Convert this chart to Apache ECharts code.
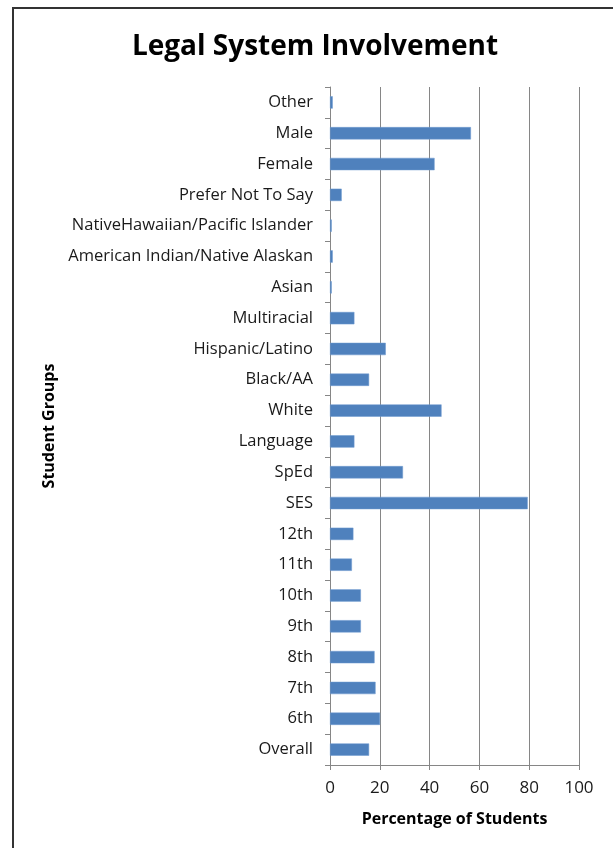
<!DOCTYPE html>
<html>
<head>
<meta charset="utf-8">
<script src="https://cdn.jsdelivr.net/npm/echarts@6/dist/echarts.min.js"></script>
<style>
  html, body { margin: 0; padding: 0; background: #fff; }
  #chart { width: 613px; height: 848px; }
</style>
</head>
<body>
<div id="chart"></div>
<script>
// categories bottom -> top
var groups = ['Overall', '6th', '7th', '8th', '9th', '10th', '11th', '12th', 'SES', 'SpEd',
  'Language', 'White', 'Black/AA', 'Hispanic/Latino', 'Multiracial', 'Asian',
  'American Indian/Native Alaskan', 'NativeHawaiian/Pacific Islander', 'Prefer Not To Say',
  'Female', 'Male', 'Other']
var percents = [15.7, 20.1, 18.3, 17.9, 12.4, 12.4, 8.8, 9.4, 79.4, 29.3,
  9.8, 44.8, 15.7, 22.4, 9.8, 0.7,
  1.1, 0.7, 4.7,
  42.0, 56.6, 1.1]
var xTicks = [0, 20, 40, 60, 80, 100]

var font = '"Open Sans", sans-serif'
var myChart = echarts.init(document.getElementById('chart'))
var option = {
  animation: false,
  title: {
    text: 'Legal System Involvement',
    left: 310,
    top: 28,
    textAlign: 'center',
    textStyle: { fontFamily: font, fontSize: 28, fontWeight: 'bold', color: '#000' }
  },
  graphic: [
    {
      type: 'rect',
      shape: { x: 13, y: 8, width: 620, height: 860 },
      style: { fill: 'none', stroke: '#333', lineWidth: 2 }
    }
  ],
  grid: { left: 330, right: 34, top: 87, bottom: 83 },
  xAxis: {
    type: 'value',
    min: xTicks[0],
    max: xTicks[xTicks.length - 1],
    interval: 20,
    name: 'Percentage of Students',
    nameLocation: 'middle',
    nameGap: 46,
    nameTextStyle: { fontFamily: font, fontSize: 16, fontWeight: 'bold', color: '#000' },
    axisLine: { show: true, lineStyle: { color: '#868686' } },
    axisTick: { show: true, length: 5, lineStyle: { color: '#868686' } },
    splitLine: { show: true, lineStyle: { color: '#868686', width: 1 } },
    axisLabel: { fontFamily: font, fontSize: 17, color: '#1a1a1a', margin: 15 }
  },
  yAxis: {
    type: 'category',
    data: groups,
    name: 'Student Groups',
    nameLocation: 'middle',
    nameRotate: 90,
    nameGap: 273,
    nameTextStyle: { fontFamily: font, fontSize: 16, fontWeight: 'bold', color: '#000' },
    axisLine: { show: true, lineStyle: { color: '#868686' } },
    axisTick: { show: true, length: 5, lineStyle: { color: '#868686' } },
    axisLabel: { fontFamily: font, fontSize: 16.5, color: '#1a1a1a', margin: 17, interval: 0 }
  },
  series: [
    {
      name: 'Percentage',
      type: 'bar',
      data: percents,
      barCategoryGap: '60%',
      itemStyle: { color: '#4F81BD', borderColor: '#6f9bd0', borderWidth: 0.5 }
    }
  ]
}
myChart.setOption(option)
</script>
</body>
</html>
